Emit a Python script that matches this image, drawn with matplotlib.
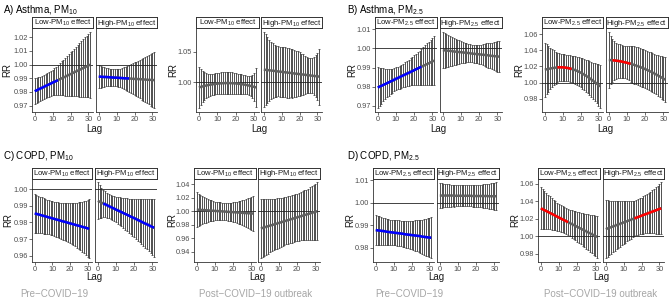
import numpy as np
import matplotlib
matplotlib.use("Agg")
import matplotlib.pyplot as plt
from matplotlib.ticker import MultipleLocator, FormatStrFormatter

plt.rcParams['font.family'] = ['Liberation Sans', 'DejaVu Sans']
plt.rcParams['mathtext.fontset'] = 'custom'
plt.rcParams['mathtext.rm'] = 'Liberation Sans'
plt.rcParams['mathtext.it'] = 'Liberation Sans:italic'
plt.rcParams['mathtext.bf'] = 'Liberation Sans:bold'

# ---------------- data (RR and half-width of 95% CI, per lag) ----------------
lags = list(range(32))

a_pre_low_rr = [0.9805,0.9811,0.9818,0.9824,0.9830,0.9836,0.9843,0.9849,0.9855,0.9861,0.9868,0.9874,0.9880,0.9886,0.9893,0.9899,
                0.9905,0.9911,0.9918,0.9924,0.9930,0.9936,0.9943,0.9949,0.9955,0.9961,0.9968,0.9974,0.9980,0.9986,0.9993,0.9999]
a_pre_low_hw = [0.0095,0.0092,0.0090,0.0088,0.0087,0.0086,0.0086,0.0087,0.0089,0.0091,0.0094,0.0099,0.0104,0.0110,0.0117,0.0124,
                0.0131,0.0138,0.0145,0.0152,0.0159,0.0166,0.0173,0.0180,0.0187,0.0195,0.0202,0.0210,0.0218,0.0225,0.0233,0.0240]
a_pre_high_rr = [0.9912,0.9911,0.9910,0.9909,0.9909,0.9908,0.9907,0.9906,0.9905,0.9904,0.9904,0.9903,0.9902,0.9901,0.9900,0.9899,
                 0.9899,0.9898,0.9897,0.9896,0.9895,0.9894,0.9894,0.9893,0.9892,0.9891,0.9890,0.9889,0.9888,0.9888,0.9887,0.9886]
a_pre_high_hw = [0.0083,0.0079,0.0075,0.0071,0.0068,0.0065,0.0063,0.0061,0.0060,0.0060,0.0061,0.0064,0.0068,0.0073,0.0079,0.0085,
                 0.0092,0.0099,0.0106,0.0113,0.0120,0.0127,0.0134,0.0141,0.0148,0.0156,0.0164,0.0172,0.0180,0.0188,0.0197,0.0205]
a_post_low_rr = [0.9917,0.9926,0.9934,0.9942,0.9949,0.9956,0.9962,0.9967,0.9972,0.9976,0.9980,0.9983,0.9985,0.9987,0.9988,0.9989,
                 0.9989,0.9988,0.9987,0.9985,0.9983,0.9980,0.9976,0.9972,0.9967,0.9962,0.9956,0.9949,0.9942,0.9934,0.9926,0.9917]
a_post_low_hw = [0.0340,0.0300,0.0260,0.0230,0.0210,0.0190,0.0180,0.0175,0.0173,0.0173,0.0174,0.0176,0.0178,0.0179,0.0180,0.0180,
                 0.0180,0.0179,0.0177,0.0174,0.0170,0.0166,0.0162,0.0158,0.0155,0.0153,0.0153,0.0156,0.0166,0.0186,0.0230,0.0313]
a_post_high_rr = [1.0210,1.0206,1.0203,1.0199,1.0195,1.0192,1.0188,1.0184,1.0180,1.0177,1.0173,1.0169,1.0166,1.0162,1.0158,1.0155,
                  1.0151,1.0147,1.0143,1.0140,1.0136,1.0132,1.0129,1.0125,1.0121,1.0118,1.0114,1.0110,1.0106,1.0103,1.0099,1.0095]
a_post_high_hw = [0.0620,0.0580,0.0540,0.0500,0.0470,0.0450,0.0430,0.0420,0.0410,0.0410,0.0410,0.0410,0.0410,0.0410,0.0410,0.0400,
                  0.0400,0.0390,0.0380,0.0370,0.0360,0.0340,0.0330,0.0310,0.0300,0.0290,0.0290,0.0290,0.0310,0.0340,0.0390,0.0460]

b_pre_low_rr = [0.9795,0.9800,0.9804,0.9809,0.9813,0.9818,0.9822,0.9827,0.9831,0.9836,0.9841,0.9845,0.9850,0.9854,0.9859,0.9863,
                0.9868,0.9872,0.9877,0.9881,0.9886,0.9891,0.9895,0.9900,0.9904,0.9909,0.9913,0.9918,0.9922,0.9927,0.9932,0.9936]
b_pre_low_hw = [0.0108,0.0100,0.0093,0.0086,0.0080,0.0074,0.0069,0.0065,0.0062,0.0061,0.0060,0.0060,0.0060,0.0061,0.0062,0.0064,
                0.0066,0.0068,0.0071,0.0074,0.0077,0.0081,0.0085,0.0089,0.0093,0.0098,0.0103,0.0108,0.0113,0.0118,0.0123,0.0128]
b_pre_high_rr = [0.9991,0.9990,0.9989,0.9988,0.9987,0.9986,0.9984,0.9983,0.9982,0.9981,0.9980,0.9979,0.9978,0.9977,0.9976,0.9975,
                 0.9973,0.9972,0.9971,0.9970,0.9969,0.9968,0.9967,0.9966,0.9965,0.9964,0.9962,0.9961,0.9960,0.9959,0.9958,0.9957]
b_pre_high_hw = [0.0096,0.0092,0.0088,0.0084,0.0080,0.0076,0.0072,0.0068,0.0064,0.0061,0.0058,0.0055,0.0052,0.0050,0.0048,0.0047,
                 0.0046,0.0046,0.0047,0.0048,0.0050,0.0052,0.0055,0.0058,0.0061,0.0064,0.0067,0.0070,0.0073,0.0076,0.0079,0.0081]
b_post_low_rr = [1.0160,1.0165,1.0170,1.0174,1.0178,1.0182,1.0185,1.0188,1.0190,1.0190,1.0189,1.0187,1.0184,1.0180,1.0175,1.0169,
                 1.0162,1.0154,1.0145,1.0135,1.0124,1.0112,1.0099,1.0085,1.0070,1.0055,1.0039,1.0022,1.0005,0.9988,0.9970,0.9952]
b_post_low_hw = [0.0335,0.0310,0.0285,0.0260,0.0238,0.0218,0.0200,0.0185,0.0175,0.0170,0.0166,0.0164,0.0163,0.0163,0.0164,0.0165,
                 0.0168,0.0171,0.0174,0.0178,0.0182,0.0187,0.0192,0.0198,0.0204,0.0210,0.0217,0.0224,0.0232,0.0242,0.0255,0.0270]
b_post_high_rr = [1.0280,1.0279,1.0277,1.0275,1.0272,1.0269,1.0265,1.0261,1.0256,1.0251,1.0245,1.0239,1.0233,1.0226,1.0219,1.0211,
                  1.0203,1.0195,1.0186,1.0177,1.0167,1.0157,1.0147,1.0136,1.0125,1.0113,1.0101,1.0089,1.0076,1.0063,1.0049,1.0035]
b_post_high_hw = [0.0350,0.0300,0.0265,0.0240,0.0225,0.0215,0.0208,0.0203,0.0200,0.0200,0.0205,0.0213,0.0221,0.0228,0.0232,0.0234,
                  0.0235,0.0235,0.0235,0.0235,0.0235,0.0236,0.0237,0.0238,0.0240,0.0243,0.0246,0.0250,0.0255,0.0262,0.0270,0.0280]

c_pre_low_rr = [0.9855,0.9852,0.9849,0.9846,0.9843,0.9840,0.9837,0.9834,0.9831,0.9828,0.9825,0.9822,0.9819,0.9816,0.9813,0.9810,
                0.9807,0.9804,0.9801,0.9798,0.9795,0.9792,0.9789,0.9786,0.9783,0.9780,0.9777,0.9774,0.9771,0.9768,0.9765,0.9762]
c_pre_low_hw = [0.0120,0.0117,0.0114,0.0111,0.0109,0.0107,0.0105,0.0104,0.0103,0.0103,0.0103,0.0103,0.0104,0.0105,0.0106,0.0108,
                0.0110,0.0112,0.0114,0.0117,0.0120,0.0123,0.0127,0.0131,0.0136,0.0141,0.0146,0.0152,0.0158,0.0164,0.0171,0.0178]
c_pre_high_rr = [0.9931,0.9926,0.9920,0.9915,0.9910,0.9905,0.9899,0.9894,0.9889,0.9884,0.9878,0.9873,0.9868,0.9863,0.9857,0.9852,
                 0.9847,0.9842,0.9836,0.9831,0.9826,0.9821,0.9815,0.9810,0.9805,0.9799,0.9794,0.9789,0.9784,0.9778,0.9773,0.9768]
c_pre_high_hw = [0.0112,0.0100,0.0090,0.0083,0.0078,0.0075,0.0073,0.0073,0.0074,0.0076,0.0078,0.0081,0.0084,0.0087,0.0091,0.0095,
                 0.0099,0.0103,0.0107,0.0111,0.0115,0.0120,0.0125,0.0130,0.0135,0.0140,0.0146,0.0152,0.0158,0.0164,0.0170,0.0176]
c_post_low_rr = [1.0024,1.0022,1.0020,1.0018,1.0017,1.0015,1.0013,1.0011,1.0009,1.0007,1.0005,1.0003,1.0002,1.0000,0.9998,0.9996,
                 0.9994,0.9992,0.9990,0.9988,0.9987,0.9985,0.9983,0.9981,0.9979,0.9977,0.9975,0.9973,0.9972,0.9970,0.9968,0.9966]
c_post_low_hw = [0.0257,0.0240,0.0224,0.0209,0.0195,0.0182,0.0170,0.0160,0.0151,0.0144,0.0139,0.0135,0.0132,0.0130,0.0129,0.0129,
                 0.0130,0.0132,0.0135,0.0139,0.0144,0.0150,0.0157,0.0165,0.0174,0.0184,0.0195,0.0207,0.0219,0.0231,0.0243,0.0256]
c_post_high_rr = [0.9746,0.9754,0.9762,0.9771,0.9779,0.9787,0.9795,0.9803,0.9812,0.9820,0.9828,0.9836,0.9844,0.9853,0.9861,0.9869,
                  0.9877,0.9885,0.9894,0.9902,0.9910,0.9918,0.9926,0.9935,0.9943,0.9951,0.9959,0.9967,0.9976,0.9984,0.9992,1.0000]
c_post_high_hw = [0.0440,0.0430,0.0421,0.0412,0.0404,0.0396,0.0389,0.0382,0.0376,0.0371,0.0366,0.0362,0.0358,0.0355,0.0352,0.0350,
                  0.0349,0.0348,0.0348,0.0349,0.0350,0.0352,0.0355,0.0359,0.0364,0.0370,0.0377,0.0385,0.0394,0.0404,0.0415,0.0428]

d_pre_low_rr = [0.9878,0.9877,0.9876,0.9875,0.9874,0.9873,0.9871,0.9870,0.9869,0.9868,0.9867,0.9866,0.9865,0.9864,0.9863,0.9862,
                0.9860,0.9859,0.9858,0.9857,0.9856,0.9855,0.9854,0.9853,0.9852,0.9851,0.9849,0.9848,0.9847,0.9846,0.9845,0.9844]
d_pre_low_hw = [0.0068,0.0066,0.0064,0.0062,0.0060,0.0059,0.0058,0.0057,0.0056,0.0056,0.0056,0.0056,0.0056,0.0057,0.0057,0.0058,
                0.0059,0.0060,0.0061,0.0062,0.0063,0.0065,0.0067,0.0069,0.0071,0.0073,0.0076,0.0079,0.0082,0.0085,0.0088,0.0091]
d_pre_high_rr = [1.0032,1.0032,1.0032,1.0032,1.0032,1.0032,1.0032,1.0032,1.0031,1.0031,1.0031,1.0031,1.0031,1.0031,1.0031,1.0031,
                 1.0031,1.0031,1.0030,1.0030,1.0030,1.0030,1.0030,1.0030,1.0030,1.0030,1.0030,1.0029,1.0029,1.0029,1.0029,1.0029]
d_pre_high_hw = [0.0055,0.0054,0.0053,0.0052,0.0051,0.0050,0.0049,0.0048,0.0048,0.0047,0.0047,0.0047,0.0046,0.0046,0.0046,0.0046,
                 0.0046,0.0047,0.0047,0.0048,0.0048,0.0049,0.0050,0.0051,0.0052,0.0053,0.0054,0.0056,0.0057,0.0059,0.0060,0.0062]
d_post_low_rr = [1.0319,1.0309,1.0298,1.0288,1.0277,1.0267,1.0256,1.0246,1.0235,1.0225,1.0214,1.0204,1.0193,1.0183,1.0172,1.0162,
                 1.0151,1.0141,1.0130,1.0120,1.0109,1.0099,1.0088,1.0078,1.0067,1.0057,1.0046,1.0036,1.0025,1.0015,1.0004,0.9994]
d_post_low_hw = [0.0240,0.0228,0.0217,0.0206,0.0196,0.0187,0.0179,0.0172,0.0166,0.0160,0.0155,0.0151,0.0148,0.0146,0.0146,0.0148,
                 0.0152,0.0156,0.0160,0.0164,0.0168,0.0173,0.0178,0.0184,0.0190,0.0196,0.0203,0.0210,0.0217,0.0224,0.0231,0.0238]
d_post_high_rr = [1.0082,1.0090,1.0097,1.0105,1.0113,1.0120,1.0128,1.0136,1.0143,1.0151,1.0159,1.0166,1.0174,1.0181,1.0189,1.0197,
                  1.0204,1.0212,1.0220,1.0227,1.0235,1.0243,1.0250,1.0258,1.0266,1.0273,1.0281,1.0289,1.0296,1.0304,1.0312,1.0319]
d_post_high_hw = [0.0330,0.0320,0.0311,0.0302,0.0293,0.0285,0.0277,0.0269,0.0261,0.0254,0.0247,0.0240,0.0232,0.0224,0.0216,0.0209,
                  0.0202,0.0201,0.0202,0.0204,0.0207,0.0211,0.0216,0.0222,0.0229,0.0237,0.0246,0.0255,0.0264,0.0274,0.0285,0.0296]

titles = ['A) Asthma, PM$_{10}$', 'B) Asthma, PM$_{2.5}$', 'C) COPD, PM$_{10}$', 'D) COPD, PM$_{2.5}$']
pm_labels = ['$_{10}$', '$_{2.5}$', '$_{10}$', '$_{2.5}$']
period_labels = ['Pre\u2212COVID\u221219', 'Post\u2212COVID\u221219 outbreak']
y_steps = [0.01, 0.05, 0.01, 0.02, 0.01, 0.02, 0.01, 0.02]

# ---------------- layout (pixels) ----------------
W, H = 669, 300
fig = plt.figure(figsize=(W / 100, H / 100), dpi=100)


def fbox(x0, x1, y0, y1):
    return [x0 / W, 1 - y1 / H, (x1 - x0) / W, (y1 - y0) / H]


rows = [dict(strip_top=17, plot_top=28, plot_bot=112, lag_y=128.5, rr_y=70, title_y=10),
        dict(strip_top=167.5, plot_top=178.5, plot_bot=262, lag_y=277.5, rr_y=220, title_y=156)]

# each subplot: (row, title index, period, low, high, x ranges low/high, rr label x)
subplots = [
    (0, 0, 0, (a_pre_low_rr, a_pre_low_hw), (a_pre_high_rr, a_pre_high_hw), (32, 93), (96, 157), 7),
    (0, 0, 1, (a_post_low_rr, a_post_low_hw), (a_post_high_rr, a_post_high_hw), (196, 259), (261, 322), 173),
    (0, 1, 0, (b_pre_low_rr, b_pre_low_hw), (b_pre_high_rr, b_pre_high_hw), (375, 437), (440, 502), 352),
    (0, 1, 1, (b_post_low_rr, b_post_low_hw), (b_post_high_rr, b_post_high_hw), (542, 603), (606, 668), 519),
    (1, 2, 0, (c_pre_low_rr, c_pre_low_hw), (c_pre_high_rr, c_pre_high_hw), (32, 92), (95, 157), 8),
    (1, 2, 1, (c_post_low_rr, c_post_low_hw), (c_post_high_rr, c_post_high_hw), (194, 256), (258, 320), 172),
    (1, 3, 0, (d_pre_low_rr, d_pre_low_hw), (d_pre_high_rr, d_pre_high_hw), (373, 434), (437, 499), 350),
    (1, 3, 1, (d_post_low_rr, d_post_low_hw), (d_post_high_rr, d_post_high_hw), (538, 600), (603, 664), 515),
]

AX_COL = '#333333'
TICK_LBL = '#4d4d4d'


def draw_facet(ax, rr, hw, ylim, step, first):
    x = np.array(lags)
    rr = np.array(rr)
    hw = np.array(hw)
    lo, hi = rr - hw, rr + hw
    ax.errorbar(x, rr, yerr=hw, fmt='none', ecolor='#333333', elinewidth=0.6,
                capsize=0.9, capthick=0.5, zorder=2)
    ax.axhline(1.0, color='#222222', lw=0.6, zorder=3)
    ax.plot(x, rr, color='#606060', lw=1.8, solid_capstyle='butt', zorder=4)
    for mask, col in ((hi < 1, '#0000ff'), (lo > 1, '#ff0000')):
        ax.plot(x, np.where(mask, rr, np.nan), color=col, lw=1.8,
                solid_capstyle='butt', zorder=5)
    ax.set_xlim(-1.55, 32.55)
    ax.set_ylim(*ylim)
    ax.set_xticks([0, 10, 20, 30])
    ax.yaxis.set_major_locator(MultipleLocator(step))
    ax.yaxis.set_major_formatter(FormatStrFormatter('%.2f'))
    for s in ('top', 'right'):
        ax.spines[s].set_visible(False)
    for s in ('left', 'bottom'):
        ax.spines[s].set_linewidth(0.6)
        ax.spines[s].set_color(AX_COL)
    ax.tick_params(length=2, width=0.5, color=AX_COL, labelsize=5.3,
                   labelcolor=TICK_LBL, pad=1.0)
    if not first:
        ax.tick_params(axis='y', left=False, labelleft=False)
    ax.patch.set_alpha(0)


def draw_strip(x0, x1, y0, y1, text):
    sax = fig.add_axes(fbox(x0, x1, y0, y1))
    sax.set_xticks([])
    sax.set_yticks([])
    for s in sax.spines.values():
        s.set_linewidth(0.7)
        s.set_color('#333333')
    sax.text(0.5, 0.45, text, ha='center', va='center', fontsize=5.6,
             color='#1a1a1a', transform=sax.transAxes)


for (r, ti, period, low, high, xl, xh, rrx), step in zip(subplots, y_steps):
    row = rows[r]
    allv_lo = [v - h for v, h in zip(low[0] + high[0], low[1] + high[1])]
    allv_hi = [v + h for v, h in zip(low[0] + high[0], low[1] + high[1])]
    mn, mx = min(allv_lo), max(allv_hi)
    pad = 0.05 * (mx - mn)
    ylim = (mn - pad, mx + pad)
    for k, ((rr, hw), (x0, x1)) in enumerate(((low, xl), (high, xh))):
        ax = fig.add_axes(fbox(x0, x1, row['plot_top'], row['plot_bot']))
        draw_facet(ax, rr, hw, ylim, step, k == 0)
        lbl = ('Low-PM' if k == 0 else 'High-PM') + pm_labels[ti] + ' effect'
        draw_strip(x0, x1, row['strip_top'], row['plot_top'], lbl)
    fig.text(rrx / W, 1 - row['rr_y'] / H, 'RR', rotation=90, ha='center',
             va='center', fontsize=7, color='#1a1a1a')
    fig.text((xl[0] + xh[1]) / 2 / W, 1 - row['lag_y'] / H, 'Lag', ha='center',
             va='center', fontsize=7, color='#1a1a1a')

# panel titles
title_x = [3, 347, 3, 347]
for i, t in enumerate(titles):
    row = rows[i // 2]
    fig.text(title_x[i] / W, 1 - row['title_y'] / H, t, ha='left', va='center',
             fontsize=7, color='black')

# period captions (bottom row)
cap_x = [54, 256, 409, 601]
for i, cx in enumerate(cap_x):
    fig.text(cx / W, 1 - 294 / H, period_labels[i % 2], ha='center', va='center',
             fontsize=7, color='#a6a6a6')

fig.savefig('out.png', dpi=100)
